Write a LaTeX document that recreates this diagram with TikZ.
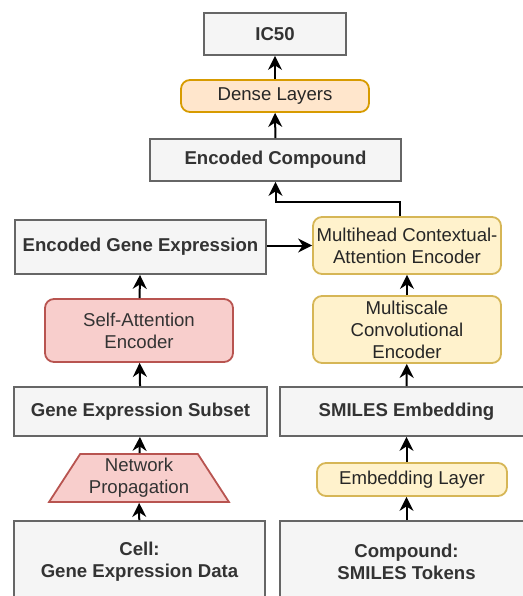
\documentclass[tikz,border=0pt]{standalone}
\usepackage{fontspec}
\setmainfont{Liberation Sans}
\usetikzlibrary{shapes.geometric,arrows.meta}
\definecolor{boxfill}{HTML}{F5F5F5}
\definecolor{boxline}{HTML}{666666}
\definecolor{boxtext}{HTML}{333333}
\definecolor{redfill}{HTML}{F8CECC}
\definecolor{redline}{HTML}{B85450}
\definecolor{yelfill}{HTML}{FFF2CC}
\definecolor{yelline}{HTML}{D6B656}
\definecolor{orafill}{HTML}{FFE6CC}
\definecolor{oraline}{HTML}{D79B00}
\begin{document}
\begin{tikzpicture}[x=1pt,y=-1pt,
	txt/.style={align=center,inner sep=0pt,line width=1.8pt,font=\fontsize{18.6}{22}\selectfont},
	grey/.style={txt,draw=boxline,fill=boxfill,text=boxtext,font=\fontsize{18.6}{22}\selectfont\bfseries},
	red/.style={txt,draw=redline,fill=redfill,text=boxtext,rounded corners=9pt},
	yel/.style={txt,draw=yelline,fill=yelfill,text=black!85,rounded corners=9pt},
	ora/.style={txt,draw=oraline,fill=orafill,text=black!85,rounded corners=9pt},
	arr/.style={-{Stealth[length=14pt,width=14pt,inset=4.5pt]},line width=2pt}]
	\useasboundingbox (0,0) rectangle (522,596);
	\node[grey,minimum width=142,minimum height=42] (IC) at (275,34) {IC50};
	\node[ora,minimum width=188,minimum height=32] (DL) at (275,96) {Dense Layers};
	\node[grey,minimum width=251,minimum height=42] (EC) at (275.5,160) {Encoded Compound};
	\node[grey,minimum width=251,minimum height=54] (EG) at (140.5,247) {Encoded Gene Expression};
	\node[yel,minimum width=188,minimum height=57] (MH) at (407,245.5) {Multihead Contextual-\\Attention Encoder};
	\node[red,minimum width=188,minimum height=63] (SA) at (139,330.5) {Self-Attention\\Encoder};
	\node[yel,minimum width=188,minimum height=67] (MS) at (407,329.5) {Multiscale\\Convolutional\\Encoder};
	\node[grey,minimum width=253,minimum height=49] (GS) at (140.5,411.5) {Gene Expression Subset};
	\node[grey,minimum width=253,minimum height=49] (SE) at (406.5,411.5) {SMILES Embedding};
	\node[txt,draw=redline,fill=redfill,text=boxtext,trapezium,trapezium angle=56,trapezium stretches=true,minimum width=180,minimum height=48] (NP) at (139,478) {Network\\Propagation};
	\node[yel,minimum width=190,minimum height=33] (EL) at (412,479.5) {Embedding Layer};
	\node[grey,minimum width=251,minimum height=82] (CE) at (139.5,562) {Cell:\\Gene Expression Data};
	\node[grey,minimum width=253,minimum height=82] (CO) at (406.5,562) {Compound:\\SMILES Tokens};
	\draw[arr] (CE) -- (NP);
	\draw[arr] (NP) -- (GS);
	\draw[arr] (GS) -- (SA);
	\draw[arr] (SA) -- (EG);
	\draw[arr] (CO.north) -- (CO.north |- EL.south);
	\draw[arr] (CO.north |- EL.north) -- (SE);
	\draw[arr] (SE) -- (MS);
	\draw[arr] (MS) -- (MH);
	\draw[arr] (MH.west -| EG.east) -- (MH.west);
	\draw[arr] ([xshift=-7pt]MH.north) |- ++(0,-14) -| (EC.south);
	\draw[arr] (EC) -- (DL);
	\draw[arr] (DL) -- (IC);
\end{tikzpicture}
\end{document}
